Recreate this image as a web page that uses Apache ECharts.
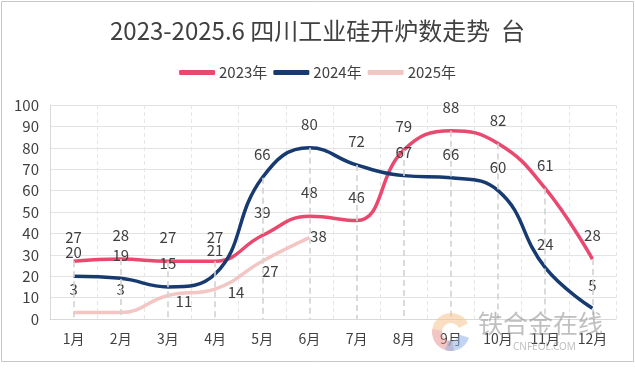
<!DOCTYPE html>
<html>
<head>
<meta charset="utf-8">
<script src="https://cdn.jsdelivr.net/npm/echarts@6/dist/echarts.min.js"></script>
<style>
html,body{margin:0;padding:0;background:#fff;}
#c{width:635px;height:372px;}
</style>
</head>
<body>
<div id="c"></div>
<script>
const months = ['1月','2月','3月','4月','5月','6月','7月','8月','9月','10月','11月','12月'];
const s2023 = [27, 28, 27, 27, 39, 48, 46, 79, 88, 82, 61, 28];
const s2024 = [20, 19, 15, 21, 66, 80, 72, 67, 66, 60, 24, 5];
const s2025 = [3, 3, 11, 14, 27, 38];
const yTicks = [0, 10, 20, 30, 40, 50, 60, 70, 80, 90, 100];

const FONT = '"Noto Sans CJK SC", "Noto Sans", sans-serif';
const TXT = '#404040';

const maxes = months.map((m, i) => Math.max(s2023[i] ?? 0, s2024[i] ?? 0, s2025[i] ?? 0));
const dropLines = months.map((m, i) => [{coord: [m, maxes[i]]}, {coord: [m, 0]}]);

// 2025 label offsets (some labels sit to the right of the point)
const off2025 = [[0,0],[0,0],[16,29],[21,27],[8,34],[9,22]];
const d2025 = s2025.map((v, i) => ({value: v, label: {offset: off2025[i]}}));

const chart = echarts.init(document.getElementById('c'));
const lbl = {show: true, position: 'top', distance: 16, fontSize: 15, color: TXT, fontFamily: FONT};
chart.setOption({
  animation: false,
  title: {
    text: '2023-2025.6 四川工业硅开炉数走势  台',
    left: 'center', top: 14,
    textStyle: {fontSize: 24, fontWeight: 'normal', color: TXT, fontFamily: FONT}
  },
  legend: {
    top: 60, left: 'center',
    icon: 'roundRect', itemWidth: 36, itemHeight: 5, itemGap: 6,
    textStyle: {fontSize: 15, color: TXT, fontFamily: FONT, padding: [0,0,0,-1]},
    data: ['2023年', '2024年', '2025年']
  },
  grid: {left: 50, right: 19, top: 105, bottom: 53},
  xAxis: {
    type: 'category', data: months, boundaryGap: true,
    axisLine: {show: true, lineStyle: {color: '#d9d9d9'}},
    axisTick: {show: false},
    axisLabel: {fontSize: 14, color: TXT, fontFamily: FONT, margin: 13},
    splitLine: {show: true, lineStyle: {color: '#e6e6e6', type: [4, 3]}}
  },
  yAxis: {
    type: 'value', min: 0, max: 100, interval: 10,
    axisLine: {show: true, lineStyle: {color: '#d9d9d9'}},
    axisLabel: {fontSize: 15, color: TXT, fontFamily: FONT, margin: 11,
      formatter: v => yTicks.includes(v) ? String(v) : ''},
    splitLine: {lineStyle: {color: '#e3e3e3'}}
  },
  graphic: [
    {type: 'rect', shape: {x: 1.5, y: 1.5, width: 632, height: 360}, style: {fill: 'none', stroke: '#c8c8c8', lineWidth: 1}, z: 0, silent: true},
    {type: 'sector', shape: {cx: 451, cy: 332, r0: 9, r: 19, startAngle: -Math.PI*0.95, endAngle: -Math.PI*0.15}, style: {fill: '#f5c28f', opacity: 0.55}, z: 100, silent: true},
    {type: 'sector', shape: {cx: 451, cy: 332, r0: 9, r: 19, startAngle: Math.PI*0.45, endAngle: Math.PI*1.05}, style: {fill: '#e88e8e', opacity: 0.5}, z: 100, silent: true},
    {type: 'sector', shape: {cx: 451, cy: 332, r0: 9, r: 19, startAngle: Math.PI*0.1, endAngle: Math.PI*0.6}, style: {fill: '#8fb3e3', opacity: 0.55}, z: 100, silent: true},
    {type: 'text', left: 478, top: 311, style: {text: '铁合金在线', font: '25px "Noto Sans CJK SC"', fill: 'rgba(140,140,140,0.55)'}, z: 100, silent: true},
    {type: 'text', left: 513, top: 342, style: {text: 'CNFEOL.COM', font: '10px "Noto Sans"', fill: 'rgba(140,140,140,0.55)'}, z: 100, silent: true}
  ],
  series: [
    {
      name: 'drop', type: 'line', data: [], z: 1, silent: true,
      markLine: {symbol: 'none', silent: true, label: {show: false},
        lineStyle: {color: '#d2d2d2', type: [6, 4], width: 1.6}, data: dropLines}
    },
    {
      name: '2023年', type: 'line', data: s2023, smooth: 0.45, z: 3,
      symbol: 'circle', symbolSize: 0, showSymbol: true,
      itemStyle: {color: '#e9496f'}, lineStyle: {width: 3.5, color: '#e9496f'},
      label: lbl
    },
    {
      name: '2024年', type: 'line', data: s2024, smooth: 0.45, z: 4,
      symbol: 'circle', symbolSize: 0, showSymbol: true,
      itemStyle: {color: '#173b70'}, lineStyle: {width: 3.5, color: '#173b70'},
      label: lbl
    },
    {
      name: '2025年', type: 'line', data: d2025, smooth: 0.45, z: 2,
      symbol: 'circle', symbolSize: 0, showSymbol: true,
      itemStyle: {color: '#f3c6c4'}, lineStyle: {width: 3.5, color: '#f3c6c4'},
      label: lbl
    }
  ]
});
</script>
</body>
</html>
